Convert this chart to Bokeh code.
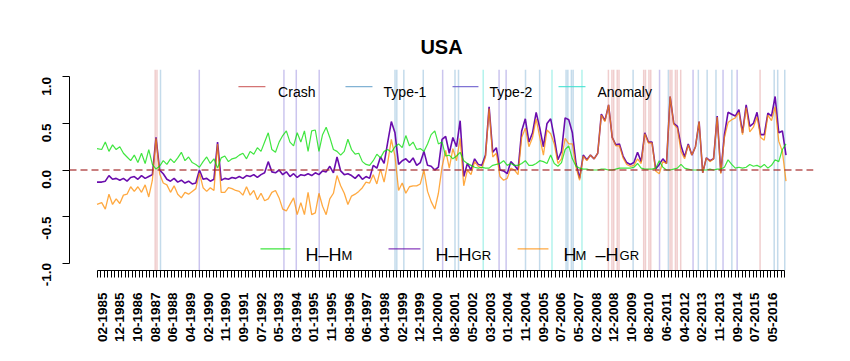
import math
import numpy as np
from bokeh.plotting import figure
from bokeh.models import Range1d, FixedTicker, Span, Label, Arrow, ColumnDataSource, NumeralTickFormatter
from bokeh.embed import file_html
from bokeh.resources import INLINE

# ---------------- data ----------------
tick_labels = ["02-1985", "12-1985", "10-1986", "08-1987", "06-1988", "04-1989", "02-1990",
               "11-1990", "09-1991", "07-1992", "05-1993", "03-1994", "01-1995", "11-1995",
               "08-1996", "06-1997", "04-1998", "02-1999", "12-1999", "10-2000", "08-2001",
               "05-2002", "03-2003", "01-2004", "11-2004", "09-2005", "07-2006", "05-2007",
               "02-2008", "12-2008", "10-2009", "08-2010", "06-2011", "04-2012", "02-2013",
               "11-2013", "09-2014", "07-2015", "05-2016"]

# observation index of each sampled point (monthly observations 0..390)
sample_obs = [0.0] + list(np.round(np.linspace(2.66, 390.7, 190), 2))

h_hm = [0.23,
    0.22, 0.30, 0.20, 0.27, 0.22, 0.25, 0.18, 0.14, 0.10, 0.16,
    0.08, 0.18, 0.07, 0.22, 0.06, 0.01, 0.04, 0.10, 0.06, 0.12,
    0.08, 0.13, 0.19, 0.10, 0.14, 0.08, 0.06, 0.03, 0.09, 0.14,
    0.07, 0.12, 0.02, 0.13, 0.15, 0.09, 0.12, 0.13, 0.16, 0.18,
    0.12, 0.20, 0.17, 0.24, 0.20, 0.30, 0.40, 0.22,
    0.19, 0.30, 0.37, 0.42, 0.30, 0.26, 0.40, 0.30, 0.42, 0.20,
    0.42, 0.43, 0.20, 0.38, 0.46, 0.35, 0.22, 0.20, 0.16, 0.20,
    0.33, 0.22, 0.17, 0.18, 0.09, 0.06, 0.05, 0.10, 0.17, 0.13,
    0.20, 0.22, 0.19, 0.25, 0.28, 0.24, 0.37, 0.26, 0.30, 0.22,
    0.23, 0.20, 0.28, 0.38, 0.42, 0.28, 0.30,
    0.15, 0.16, 0.12, 0.15, 0.19, 0.10, 0.07, 0.05, 0.03, 0.02,
    0.03, 0.02, 0.02, 0.05, 0.06, 0.07, 0.10, 0.05, 0.07, 0.05,
    0.05, 0.07, 0.10, 0.05, 0.05, 0.07, 0.10, 0.09, 0.07, 0.16,
    0.07, 0.04, 0.08, 0.22, 0.26, 0.12, 0.04, 0.02, 0.01, 0.01,
    0.00, 0.00, 0.00, 0.01, 0.01, 0.00, 0.00, 0.01, 0.02, 0.02,
    0.02, 0.02, 0.03, 0.07, 0.02, 0.01, 0.01, 0.01, 0.02, 0.10,
    0.03, 0.00, 0.00, 0.01, 0.02, 0.06, 0.02, 0.01, 0.00, 0.00,
    0.00, 0.00, 0.00, 0.01, 0.00, 0.01, 0.01, 0.03, 0.11, 0.06,
    0.02, 0.03, 0.02, 0.03, 0.06, 0.04, 0.05, 0.03, 0.06, 0.02,
    0.05, 0.11, 0.09, 0.22, 0.28]

h_hgr = [-0.13,
    -0.13, -0.12, -0.06, -0.10, -0.09, -0.11, -0.09, -0.12, -0.08, -0.07,
    -0.10, -0.06, -0.09, -0.07, -0.05, 0.35, 0.00, -0.04, -0.10, -0.12,
    -0.09, -0.13, -0.11, -0.14, -0.12, -0.15, -0.14, 0.00, -0.10, -0.09,
    -0.12, -0.10, 0.30, -0.11, -0.09, -0.10, -0.08, -0.09, -0.07, -0.09,
    -0.06, -0.07, -0.05, -0.08, -0.05, -0.03, 0.09, -0.02,
    -0.03, 0.00, -0.05, -0.02, -0.07, -0.04, -0.08, -0.05, -0.06, -0.04,
    -0.06, -0.03, -0.05, -0.01, -0.02, 0.04, -0.03, 0.14, -0.01, -0.05,
    -0.04, -0.06, -0.09, -0.05, -0.10, -0.07, -0.09, 0.05, 0.02, 0.14,
    0.07, 0.30, 0.52, 0.40, 0.06, 0.10, 0.12, 0.08, 0.13, 0.05,
    0.08, 0.20, 0.05, 0.04, 0.00, 0.03, 0.33,
    0.36, 0.18, 0.35, 0.25, 0.53, -0.07, 0.07, 0.00, 0.12, 0.06,
    0.05, 0.16, 0.68, 0.19, 0.24, 0.00, -0.01, -0.04, 0.09, 0.05,
    0.00, 0.42, 0.55, 0.30, 0.40, 0.62, 0.45, 0.25, 0.50, 0.55,
    0.35, 0.11, 0.20, 0.56, 0.54, 0.40, 0.07, -0.09, 0.16, 0.11,
    0.16, 0.12, 0.18, 0.60, 0.53, 0.70, 0.35, 0.27, 0.28, 0.15,
    0.08, 0.06, 0.08, 0.19, 0.09, 0.40, 0.30, 0.30, 0.01, 0.06,
    0.12, 0.07, 0.79, 0.50, 0.47, 0.26, 0.14, 0.28, 0.16, 0.25,
    0.52, -0.03, 0.13, 0.10, 0.12, 0.58, -0.03, 0.38, 0.62, 0.60,
    0.58, 0.65, 0.40, 0.70, 0.47, 0.50, 0.62, 0.38, 0.38, 0.61,
    0.58, 0.79, 0.40, 0.42, 0.16]

hm_hgr = [-0.37,
    -0.35, -0.42, -0.26, -0.37, -0.31, -0.36, -0.27, -0.26, -0.18, -0.23,
    -0.18, -0.24, -0.16, -0.29, -0.11, 0.34, -0.04, -0.14, -0.16, -0.24,
    -0.17, -0.26, -0.30, -0.24, -0.26, -0.23, -0.20, -0.03, -0.19, -0.23,
    -0.19, -0.22, 0.28, -0.24, -0.24, -0.19, -0.20, -0.22, -0.23, -0.27,
    -0.18, -0.27, -0.22, -0.32, -0.25, -0.33, -0.31, -0.24,
    -0.22, -0.30, -0.42, -0.44, -0.37, -0.30, -0.48, -0.35, -0.48, -0.24,
    -0.48, -0.46, -0.25, -0.39, -0.48, -0.31, -0.25, -0.06, -0.17, -0.25,
    -0.37, -0.28, -0.26, -0.23, -0.19, -0.13, -0.14, -0.05, -0.15, 0.01,
    -0.13, 0.08, 0.33, 0.15, -0.22, -0.14, -0.25, -0.18, -0.17, -0.17,
    -0.15, 0.00, -0.23, -0.34, -0.42, -0.25, 0.03,
    0.21, 0.02, 0.23, 0.10, 0.34, -0.17, 0.00, -0.05, 0.09, 0.04,
    0.02, 0.14, 0.66, 0.14, 0.18, -0.07, -0.11, -0.09, 0.02, 0.00,
    -0.05, 0.35, 0.45, 0.25, 0.35, 0.55, 0.35, 0.16, 0.43, 0.39,
    0.28, 0.07, 0.12, 0.34, 0.28, 0.28, 0.03, -0.11, 0.15, 0.10,
    0.16, 0.12, 0.18, 0.59, 0.52, 0.70, 0.35, 0.26, 0.26, 0.13,
    0.06, 0.04, 0.05, 0.12, 0.07, 0.39, 0.29, 0.29, -0.01, -0.04,
    0.09, 0.07, 0.79, 0.49, 0.45, 0.20, 0.12, 0.27, 0.16, 0.25,
    0.52, -0.03, 0.13, 0.09, 0.12, 0.57, -0.04, 0.35, 0.51, 0.54,
    0.56, 0.62, 0.38, 0.67, 0.41, 0.46, 0.57, 0.35, 0.32, 0.59,
    0.53, 0.68, 0.31, 0.20, -0.12]

# event dates (observation index) marked by vertical lines
crash_obs = [33, 34, 290, 292, 293, 295, 296, 310, 311, 313, 314, 325, 326, 328, 329, 331, 376]
type1_obs = [36, 169, 170, 174, 185, 203, 205, 243, 251, 266, 267, 269, 270, 304, 324, 341,
             346, 351, 360, 384, 386, 390]
type2_obs = [58, 106, 113, 126, 196, 228, 232, 319, 338, 355, 363]
anomaly_obs = [219, 258, 275]

# ---------------- styles ----------------
FONT = "Liberation Sans"
C_GREEN, C_PURPLE, C_ORANGE = "#00DD00", "#6A0DAD", "#FF8C00"
C_CRASH, C_T1, C_T2, C_AN = "#CD5C5C", "#6CA6CD", "#6A5ACD", "#40E0D0"

src = ColumnDataSource(dict(obs=sample_obs, g=h_hm, p=h_hgr, o=hm_hgr))

p = figure(width=834, height=345, x_range=Range1d(-15.6, 406.3), y_range=Range1d(-1.08, 1.08),
           output_backend="svg", toolbar_location=None,
           min_border_left=69, min_border_right=21, min_border_top=69, min_border_bottom=71,
           background_fill_color="white", border_fill_color="white", outline_line_color=None)
p.grid.visible = False

p.title.text = "USA"
p.title.align = "center"
p.title.text_font = FONT
p.title.text_font_size = "20px"
p.title.text_font_style = "bold"
p.title.text_color = "black"
p.title.standoff = 23
p.title.offset = 5

# vertical event lines
for xs, col, al in [(type1_obs, C_T1, 0.4), (type2_obs, C_T2, 0.35),
                    (anomaly_obs, C_AN, 0.4), (crash_obs, C_CRASH, 0.3)]:
    for xv in xs:
        p.add_layout(Span(location=xv, dimension="height", line_color=col, line_alpha=al,
                          line_width=1.5, level="underlay"))

p.line("obs", "p", source=src, line_color=C_PURPLE, line_width=1.6)
p.line("obs", "o", source=src, line_color=C_ORANGE, line_alpha=0.75, line_width=1.3)
p.line("obs", "g", source=src, line_color=C_GREEN, line_alpha=0.75, line_width=1.2)

p.add_layout(Span(location=0, dimension="width", line_color="#A52A2A", line_alpha=0.8,
                  line_dash="7 4", line_width=1.5))

# x axis
xa = p.xaxis[0]
major = [10 * k + 3 for k in range(len(tick_labels))]
xa.ticker = FixedTicker(ticks=major, minor_ticks=list(range(0, 391, 2)))
xa.major_label_overrides = {m: lab for m, lab in zip(major, tick_labels)}
xa.bounds = (0, 390)
xa.major_tick_out = 0
xa.major_tick_in = 0
xa.minor_tick_out = 7
xa.minor_tick_in = 0
xa.major_label_orientation = math.pi / 2
xa.major_label_standoff = 15
xa.major_label_text_font = FONT
xa.major_label_text_font_size = "13.5px"
xa.major_label_text_font_style = "bold"
xa.major_label_text_color = "black"
xa.axis_line_color = "black"
xa.minor_tick_line_color = "black"

# y axis
ya = p.yaxis[0]
ya.ticker = FixedTicker(ticks=[-1, -0.5, 0, 0.5, 1], minor_ticks=[])
ya.formatter = NumeralTickFormatter(format="0.0")
ya.bounds = (-1, 1)
ya.major_tick_out = 7
ya.major_tick_in = 0
ya.minor_tick_out = 0
ya.minor_tick_in = 0
ya.major_label_orientation = math.pi / 2
ya.major_label_standoff = 16
ya.major_label_text_font = FONT
ya.major_label_text_font_size = "13.5px"
ya.major_label_text_font_style = "bold"
ya.major_label_text_color = "black"

# top legend (event types)
top_items = [("Crash", C_CRASH, 80.2, 95.5, 102.7),
             ("Type-1", C_T1, 140.9, 156.2, 162.5),
             ("Type-2", C_T2, 201.6, 216.3, 222.6),
             ("Anomaly", C_AN, 261.7, 277.0, 283.8)]
for lab, col, x0, x1, xt in top_items:
    p.add_layout(Arrow(end=None, x_start=x0, y_start=0.897, x_end=x1, y_end=0.897,
                       line_color=col, line_width=1.2, line_alpha=0.85))
    p.add_layout(Label(x=xt, y=0.842, text=lab, text_font=FONT, text_font_size="14px",
                       text_color="black", text_baseline="alphabetic", text_align="left"))

# bottom legend (series)
for col, al, x0, x1 in [(C_GREEN, 0.75, 92.7, 109.7), (C_PURPLE, 0.8, 165.3, 183.4),
                        (C_ORANGE, 0.75, 238.5, 256.0)]:
    p.add_layout(Arrow(end=None, x_start=x0, y_start=-0.848, x_end=x1, y_end=-0.848,
                       line_color=col, line_width=1.3, line_alpha=al))

main_parts = [("H\u2013H", 118.2), ("H\u2013H", 191.9), ("H", 264.5), ("\u2013H", 282.7)]
sub_parts = [("M", 138.6), ("GR", 212.4), ("M", 271.3), ("GR", 296.3)]
for t, xv in main_parts:
    p.add_layout(Label(x=xv, y=-0.912, text=t, text_font=FONT, text_font_size="18px",
                       text_color="black", text_baseline="alphabetic", text_align="left"))
for t, xv in sub_parts:
    p.add_layout(Label(x=xv, y=-0.924, text=t, text_font=FONT, text_font_size="13px",
                       text_color="black", text_baseline="alphabetic", text_align="left"))

open("out.html", "w").write(file_html(p, INLINE))
